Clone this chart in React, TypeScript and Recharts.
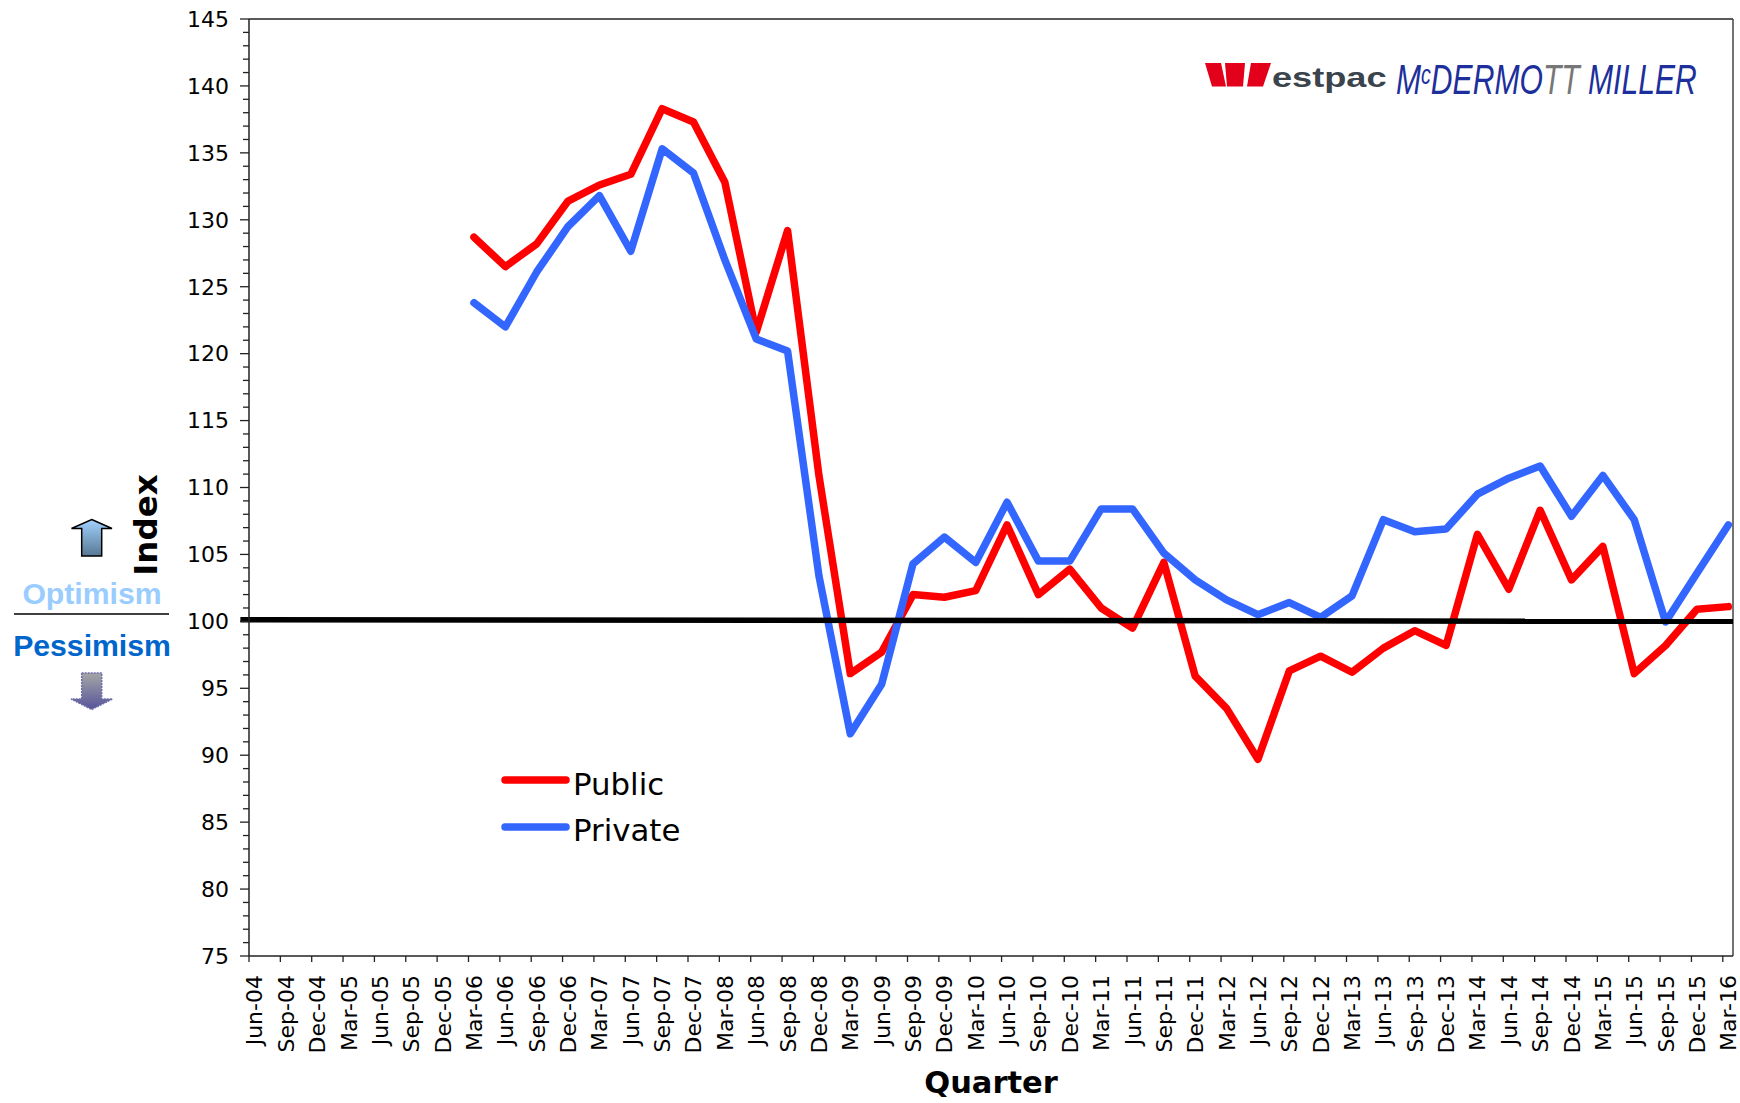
import React from "react";
import { LineChart, Line, XAxis, YAxis, ReferenceLine } from "recharts";

const quarters = [
  "Jun-04","Sep-04","Dec-04","Mar-05","Jun-05","Sep-05","Dec-05",
  "Mar-06","Jun-06","Sep-06","Dec-06","Mar-07","Jun-07","Sep-07","Dec-07",
  "Mar-08","Jun-08","Sep-08","Dec-08","Mar-09","Jun-09","Sep-09","Dec-09",
  "Mar-10","Jun-10","Sep-10","Dec-10","Mar-11","Jun-11","Sep-11","Dec-11",
  "Mar-12","Jun-12","Sep-12","Dec-12","Mar-13","Jun-13","Sep-13","Dec-13",
  "Mar-14","Jun-14","Sep-14","Dec-14","Mar-15","Jun-15","Sep-15","Dec-15","Mar-16",
];

const publicValues: (number | null)[] = [
  null,null,null,null,null,null,null,
  128.7,126.5,128.2,131.4,132.6,133.4,138.3,137.3,
  132.8,121.6,129.2,110.9,96.1,97.7,102.0,101.8,
  102.3,107.2,102.0,103.9,101.0,99.5,104.4,95.9,
  93.5,89.7,96.3,97.4,96.2,98.0,99.3,98.2,
  106.5,102.4,108.3,103.1,105.6,96.1,98.2,100.9,101.1,
];

const privateValues: (number | null)[] = [
  null,null,null,null,null,null,null,
  123.8,122.0,126.1,129.5,131.8,127.65,135.3,133.5,
  127.0,121.1,120.2,103.4,91.6,95.3,104.3,106.3,
  104.4,108.9,104.5,104.5,108.4,108.4,105.1,103.1,
  101.6,100.5,101.4,100.3,101.9,107.6,106.7,106.9,
  109.5,110.7,111.6,107.85,110.9,107.6,99.95,103.6,107.2,
];

const yTicks = [
  75,76,77,78,79,80,81,82,83,84,85,86,87,88,89,90,91,92,93,94,95,96,97,98,99,
  100,101,102,103,104,105,106,107,108,109,110,111,112,113,114,115,116,117,118,119,
  120,121,122,123,124,125,126,127,128,129,130,131,132,133,134,135,136,137,138,139,
  140,141,142,143,144,145,
];

const xDomain: [number, number] = [-0.175, 47.15];
const rows = quarters.map((quarter, idx) => ({
  idx,
  quarter,
  Public: publicValues[idx],
  Private: privateValues[idx],
}));
const xTicks = rows.map((r) => r.idx);

const RED = "#FF0000";
const BLUE = "#3366FF";
const FONT = "'DejaVu Sans', sans-serif";
const SANS = "'Liberation Sans', Arial, sans-serif";
const AXIS = "#222";

const XTick = (props: any) => {
  const { x, y, payload } = props;
  return (
    <g>
      <line x1={x - 5.5} x2={x - 5.5} y1={y - 8} y2={y - 2} stroke={AXIS} strokeWidth={1.3} />
      <text
        transform={`translate(${x + 8}, 975) rotate(-90)`}
        textAnchor="end"
        fontFamily={FONT}
        fontSize={22}
        fill="#000"
      >
        {quarters[payload.value]}
      </text>
    </g>
  );
};

const YTick = (props: any) => {
  const { x, y, payload } = props;
  const major = payload.value % 5 === 0;
  return (
    <g>
      <line x1={249 - (major ? 9 : 6)} x2={249} y1={y} y2={y} stroke={AXIS} strokeWidth={1.3} />
      {major && (
        <text x={229} y={y + 7.8} textAnchor="end" fontFamily={FONT} fontSize={22} fill="#000">
          {payload.value}
        </text>
      )}
    </g>
  );
};

const Overlay = () => (
  <svg
    width={1740}
    height={1103}
    style={{ position: "absolute", left: 0, top: 0, pointerEvents: "none" }}
  >
    <defs>
      <linearGradient id="upG" x1="0" y1="0" x2="0" y2="1">
        <stop offset="0" stopColor="#a2d2ff" />
        <stop offset="1" stopColor="#587894" />
      </linearGradient>
      <linearGradient id="downG" x1="0" y1="0" x2="0" y2="1">
        <stop offset="0" stopColor="#a6a6a6" />
        <stop offset="1" stopColor="#55549a" />
      </linearGradient>
    </defs>

    {/* logo */}
    <polygon points="1205,63 1221,63 1226,86.5 1212,86.5" fill="#e2001a" />
    <polygon points="1225,63 1245,63 1243,86.5 1227,86.5" fill="#e2001a" />
    <polygon points="1251,63 1271,63 1263,86.5 1247,86.5" fill="#e2001a" />
    <text
      transform="translate(1272, 86.5) scale(1.34, 1)"
      fontFamily={SANS}
      fontWeight="bold"
      fontSize={27}
      fill="#3b444c"
    >
      estpac
    </text>
    <text
      transform="translate(1396, 94) scale(0.7, 1)"
      fontFamily={SANS}
      fontStyle="italic"
      fontSize={43}
      fill="#1c2f9c"
    >
      M<tspan fontSize={28} dy={-10}>c</tspan>
      <tspan dy={10}>DERMO</tspan>
      <tspan fill="#777">TT</tspan>
      <tspan> MILLER</tspan>
    </text>

    {/* legend */}
    <line x1={505} x2={566} y1={780} y2={780} stroke={RED} strokeWidth={7.5} strokeLinecap="round" />
    <text x={573} y={795} fontFamily={FONT} fontSize={30.8} fill="#000">Public</text>
    <line x1={505} x2={566} y1={827} y2={827} stroke={BLUE} strokeWidth={7.5} strokeLinecap="round" />
    <text x={573} y={841} fontFamily={FONT} fontSize={30.8} fill="#000">Private</text>

    {/* axis titles */}
    <text x={991} y={1093} textAnchor="middle" fontFamily={FONT} fontWeight="bold" fontSize={30.5} fill="#000">
      Quarter
    </text>
    <text
      transform="translate(157, 525) rotate(-90)"
      textAnchor="middle"
      fontFamily={FONT}
      fontWeight="bold"
      fontSize={32.5}
      fill="#000"
    >
      Index
    </text>

    {/* optimism / pessimism */}
    <polygon
      points="91.7,519.5 112,528.5 101.7,528.5 101.7,556 81.7,556 81.7,528.5 71.5,528.5"
      fill="url(#upG)"
      stroke="#000"
      strokeWidth={1.5}
    />
    <text x={92} y={604} textAnchor="middle" fontFamily={SANS} fontWeight="bold" fontSize={30.2} fill="#99ccff">
      Optimism
    </text>
    <line x1={14} x2={169} y1={614} y2={614} stroke="#000" strokeWidth={1.5} />
    <text x={92} y={656} textAnchor="middle" fontFamily={SANS} fontWeight="bold" fontSize={30.2} fill="#0066cc">
      Pessimism
    </text>
    <polygon
      points="81.7,673 101.7,673 101.7,699 112.5,699 91.7,709.5 71,699 81.7,699"
      fill="url(#downG)"
      stroke="#6f6ea8"
      strokeWidth={1.5}
      strokeDasharray="2 1"
    />
  </svg>
);

export default function App() {
  return (
    <div style={{ position: "absolute", left: 0, top: 0, width: 1740, height: 1103, background: "#fff" }}>
      <LineChart
        width={1740}
        height={1103}
        data={rows}
        margin={{ top: 19, right: 7, bottom: 0, left: 0 }}
      >
        <XAxis
          dataKey="idx"
          type="number"
          domain={xDomain}
          ticks={xTicks}
          interval={0}
          height={147}
          tickLine={false}
          axisLine={{ stroke: AXIS, strokeWidth: 1.5 }}
          tick={<XTick />}
        />
        <YAxis
          type="number"
          domain={[75, 145]}
          ticks={yTicks}
          interval={0}
          width={249}
          tickLine={false}
          axisLine={{ stroke: AXIS, strokeWidth: 1.5 }}
          tick={<YTick />}
        />
        <ReferenceLine y={145} stroke={AXIS} strokeWidth={1.5} />
        <ReferenceLine x={47.15} stroke="#444" strokeWidth={1.5} />
        <Line
          dataKey="Public"
          stroke={RED}
          strokeWidth={7.5}
          strokeLinecap="round"
          strokeLinejoin="round"
          dot={false}
          activeDot={false}
          connectNulls={false}
          isAnimationActive={false}
        />
        <Line
          dataKey="Private"
          stroke={BLUE}
          strokeWidth={7.5}
          strokeLinecap="round"
          strokeLinejoin="round"
          dot={false}
          activeDot={false}
          connectNulls={false}
          isAnimationActive={false}
        />
        <ReferenceLine
          segment={[
            { x: -0.45, y: 100.12 },
            { x: 47.15, y: 100 },
          ]}
          stroke="#000"
          strokeWidth={5.5}
          ifOverflow="visible"
        />
      </LineChart>
      <Overlay />
    </div>
  );
}
